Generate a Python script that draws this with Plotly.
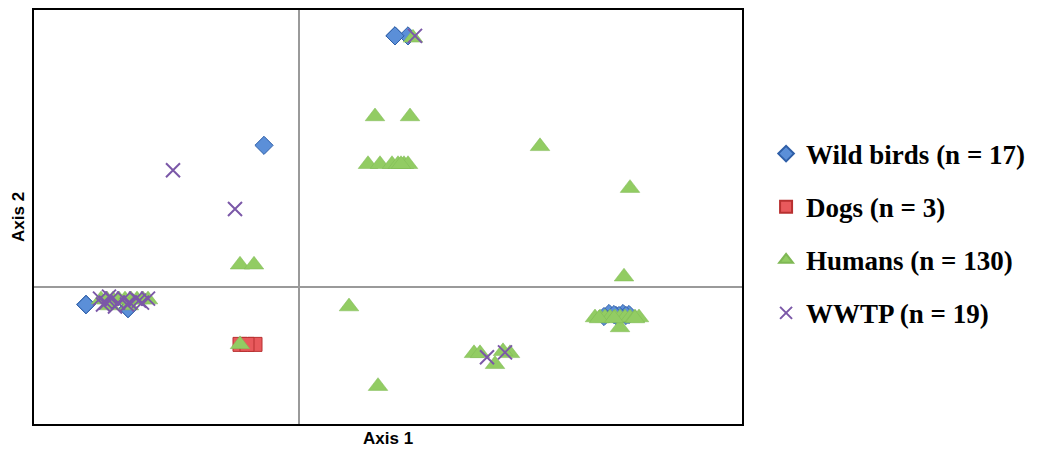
import plotly.graph_objects as go

# ---- data (ordination coordinates, arbitrary units) ----
wild_x = [0.96, 1.09, -0.35, -2.13, -1.71, 3.10, 3.24, 3.30, 3.17, 3.27, -2.13, -1.71, 3.05, 3.20, 0.96, -2.13, 3.15]
wild_y = [2.52, 2.52, 1.42, -0.18, -0.22, -0.27, -0.27, -0.28, -0.29, -0.29, -0.18, -0.22, -0.30, -0.29, 2.52, -0.18, -0.28]

dogs_x = [-0.59, -0.44, -0.52]
dogs_y = [-0.58, -0.58, -0.58]

hum_x = [1.14, 0.76, 1.11, 0.69, 0.81, 0.93, 0.99, 1.05, 1.09, 1.02,
         2.41, 3.31, 3.25, -0.59, -0.45, 0.50, 0.79,
         1.75, 1.81, 1.96, 2.11, 2.04,
         2.96, 3.01, 3.06, 3.11, 3.16, 3.21, 3.26, 3.31, 3.36, 3.40, 3.21, 3.00, 3.15, 3.36,
         -1.98, -1.92, -1.86, -1.80, -1.74, -1.68, -1.62, -1.56, -1.51, -1.89, -1.70,
         -0.59]
hum_y = [2.50, 1.71, 1.71, 1.23, 1.23, 1.23, 1.23, 1.23, 1.23, 1.23,
         1.41, 0.99, 0.10, 0.22, 0.22, -0.20, -1.00,
         -0.67, -0.67, -0.78, -0.67, -0.65,
         -0.31, -0.31, -0.31, -0.31, -0.31, -0.31, -0.31, -0.31, -0.31, -0.31, -0.41, -0.32, -0.32, -0.32,
         -0.13, -0.13, -0.13, -0.13, -0.13, -0.13, -0.13, -0.13, -0.13, -0.19, -0.19,
         -0.58]

wwtp_x = [1.16, -1.26, -0.64, 1.88, 2.06,
          -1.99, -1.93, -1.87, -1.81, -1.75, -1.69, -1.63, -1.57, -1.51,
          -1.96, -1.84, -1.72, -1.60, -1.90]
wwtp_y = [2.52, 1.17, 0.78, -0.71, -0.66,
          -0.12, -0.16, -0.12, -0.16, -0.12, -0.16, -0.12, -0.16, -0.12,
          -0.18, -0.20, -0.18, -0.14, -0.10]

names = ["Wild birds (n = 17)", "Dogs (n = 3)", "Humans (n = 130)", "WWTP (n = 19)"]

fig = go.Figure()
fig.add_trace(go.Scatter(x=wild_x, y=wild_y, mode="markers", name=names[0], legendgroup="a",
                         marker=dict(symbol="diamond", size=14, color="#5B8FD8",
                                     line=dict(color="#2F5FA8", width=1))))
fig.add_trace(go.Scatter(x=dogs_x, y=dogs_y, mode="markers", name=names[1], legendgroup="b",
                         marker=dict(symbol="square", size=14, color="#E8595C",
                                     line=dict(color="#B83030", width=1))))
fig.add_trace(go.Scatter(x=hum_x, y=hum_y, mode="markers", name=names[2], legendgroup="c",
                         marker=dict(symbol="triangle-up", size=17, color="#92CC63",
                                     line=dict(color="#7FB854", width=0.5))))
fig.add_trace(go.Scatter(x=wwtp_x, y=wwtp_y, mode="markers", name=names[3], legendgroup="d",
                         marker=dict(symbol="x-thin", size=14, color="#7B58A8",
                                     line=dict(color="#7B58A8", width=2))))

axis_common = dict(showgrid=False, showticklabels=False, ticks="", zeroline=True,
                   zerolinecolor="#9A9A9A", zerolinewidth=1.5,
                   showline=True, linecolor="black", linewidth=1.5, mirror=True)

fig.update_layout(
    width=1038, height=452,
    margin=dict(l=34, r=296, t=8, b=28),
    plot_bgcolor="white", paper_bgcolor="white",
    xaxis=dict(range=[-2.65, 4.43], **axis_common),
    yaxis=dict(range=[-1.38, 2.78], **axis_common),
    legend=dict(x=1.034, y=0.46, xanchor="left", yanchor="middle",
                font=dict(family="Liberation Serif", size=27, color="black", weight="bold"),
                tracegroupgap=15, itemsizing="constant"),
    annotations=[
        dict(text="<b>Axis 1</b>", xref="paper", yref="paper", x=0.5, y=-0.036,
             xanchor="center", yanchor="middle", showarrow=False,
             font=dict(family="Liberation Sans", size=17, color="black")),
        dict(text="<b>Axis 2</b>", xref="paper", yref="paper", x=-0.0226, y=0.5,
             xanchor="center", yanchor="middle", showarrow=False, textangle=-90,
             font=dict(family="Liberation Sans", size=17, color="black")),
    ],
)

fig.write_html("out.html", config={"displayModeBar": False},
               post_script="document.body.style.margin='0';document.body.style.overflow='hidden';")
